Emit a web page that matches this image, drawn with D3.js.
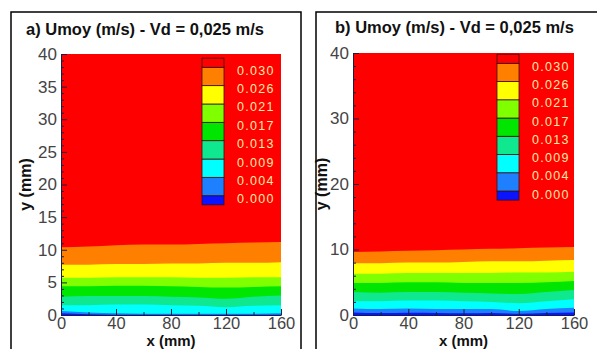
<!DOCTYPE html>
<html>
<head>
<meta charset="utf-8">
<script src="https://cdn.jsdelivr.net/npm/d3@7"></script>
<style>
  body { margin: 0; background: #fff; }
  svg { display: block; font-family: "Liberation Sans", Arial, sans-serif; }
</style>
</head>
<body>
<div id="chart"></div>
<script>
// x stations (mm) where band boundaries were read
const xs = [0, 20, 40, 60, 80, 100, 120, 140, 160];

// contour levels (m/s) and band colours, bottom to top
const levels = ['0.000', '0.004', '0.009', '0.013', '0.017', '0.021', '0.026', '0.030'];
const bandColors = ['#0a14ff', '#1e7fff', '#00ffff', '#10e890', '#00e600', '#80ff00', '#ffff00', '#ff8000', '#ff0000'];

// panel a) boundary heights y (mm) for each level
const a000 = [0.25, 0.1, 0.05, 0.05, 0.05, 0.05, 0.05, 0.05, 0.05];
const a004 = [0.6, 0.4, 0.25, 0.2, 0.2, 0.2, 0.2, 0.2, 0.25];
const a009 = [1.5, 1.5, 1.6, 1.6, 1.5, 1.4, 1.2, 1.4, 1.5];
const a013 = [2.8, 2.9, 2.9, 2.9, 2.8, 2.7, 2.5, 2.8, 3.0];
const a017 = [4.4, 4.4, 4.5, 4.5, 4.4, 4.3, 4.2, 4.3, 4.4];
const a021 = [5.7, 5.7, 5.8, 5.8, 5.8, 5.7, 5.7, 5.8, 5.8];
const a026 = [7.7, 7.7, 7.8, 7.8, 7.9, 7.9, 8.0, 8.0, 8.1];
const a030 = [10.4, 10.5, 10.7, 10.8, 10.8, 10.9, 11.0, 11.1, 11.2];

// panel b) boundary heights y (mm) for each level
const b000 = [0.4, 0.3, 0.35, 0.3, 0.25, 0.3, 0.2, 0.3, 0.4];
const b004 = [1.0, 0.9, 1.0, 0.9, 0.9, 0.9, 0.6, 0.9, 1.1];
const b009 = [2.1, 2.1, 2.2, 2.2, 2.1, 2.0, 1.8, 2.1, 2.4];
const b013 = [3.5, 3.4, 3.5, 3.5, 3.4, 3.3, 3.2, 3.5, 3.8];
const b017 = [4.9, 4.9, 5.0, 5.0, 4.9, 4.9, 4.9, 5.0, 5.2];
const b021 = [6.3, 6.3, 6.4, 6.4, 6.4, 6.4, 6.5, 6.5, 6.6];
const b026 = [7.9, 7.9, 8.0, 8.0, 8.1, 8.2, 8.2, 8.3, 8.4];
const b030 = [9.6, 9.7, 9.8, 9.9, 10.0, 10.1, 10.2, 10.3, 10.4];

const xTicks = [0, 40, 80, 120, 160];
const xMinor = [20, 60, 100, 140];
const yTicksA = [0, 5, 10, 15, 20, 25, 30, 35, 40];
const yTicksB = [0, 10, 20, 30, 40];

const W = 597, H = 349;
const svg = d3.select('#chart').append('svg')
    .attr('width', W)
    .attr('height', H);

const panels = [
    {
        id: 'a', title: 'a) Umoy (m/s) - Vd = 0,025 m/s',
        frameX: 11, frameW: 290, titleX: 26, titleY: 35,
        left: 61, right: 281, top: 54, bottom: 315,
        yTicks: yTicksA, yMinorStep: 1,
        bounds: [a000, a004, a009, a013, a017, a021, a026, a030],
        legX: 202, legTop: 67.3, legBottom: 195.7, labelX: 237,
        yLabelX: 31
    },
    {
        id: 'b', title: 'b) Umoy (m/s) - Vd = 0,025 m/s',
        frameX: 316, frameW: 300, titleX: 335, titleY: 33,
        left: 353, right: 574, top: 53, bottom: 315,
        yTicks: yTicksB, yMinorStep: 2,
        bounds: [b000, b004, b009, b013, b017, b021, b026, b030],
        legX: 497, legTop: 63.3, legBottom: 191, labelX: 532,
        yLabelX: 327
    }
];

panels.forEach(p => drawPanel(p));

function drawPanel(p) {
    const x = d3.scaleLinear().domain([0, 160]).range([p.left, p.right]);
    const y = d3.scaleLinear().domain([0, 40]).range([p.bottom, p.top]);

    // frame
    svg.append('rect')
        .attr('x', p.frameX).attr('y', 12)
        .attr('width', p.frameW).attr('height', H)
        .attr('fill', 'none').attr('stroke', '#000').attr('stroke-width', 1.5);

    svg.append('text')
        .attr('x', p.titleX).attr('y', p.titleY)
        .attr('font-size', 16.5).attr('font-weight', 'bold').attr('fill', '#111')
        .text(p.title);

    const clipId = 'clip-' + p.id;
    svg.append('clipPath').attr('id', clipId)
        .append('rect')
        .attr('x', p.left).attr('y', p.top)
        .attr('width', p.right - p.left).attr('height', p.bottom - p.top);

    const g = svg.append('g').attr('clip-path', `url(#${clipId})`);

    // top band fills whole plot
    g.append('rect')
        .attr('x', p.left).attr('y', p.top)
        .attr('width', p.right - p.left).attr('height', p.bottom - p.top)
        .attr('fill', bandColors[8]);

    // fill from y=0 up to each boundary, highest level first
    const area = d3.area()
        .x((d, i) => x(xs[i]))
        .y0(y(0) + 2)
        .y1(d => y(d))
        .curve(d3.curveMonotoneX);

    for (let k = p.bounds.length - 1; k >= 0; k--) {
        g.append('path')
            .attr('d', area(p.bounds[k]))
            .attr('fill', bandColors[k]);
    }

    // axes
    const tickColor = '#1c1c40';
    const labelColor = '#444';

    const yMinorVals = d3.range(0, 40.001, p.yMinorStep).filter(v => !p.yTicks.includes(v));
    svg.append('g')
        .attr('transform', `translate(${p.left},0)`)
        .call(d3.axisLeft(y).tickValues(yMinorVals).tickSizeInner(-3).tickSizeOuter(0).tickFormat(''))
        .call(s => s.select('.domain').remove())
        .call(s => s.selectAll('line').attr('stroke', tickColor));

    svg.append('g')
        .attr('transform', `translate(${p.left},0)`)
        .call(d3.axisLeft(y).tickValues(p.yTicks).tickSizeInner(-6).tickSizeOuter(0).tickPadding(4))
        .call(s => s.select('.domain').attr('stroke', tickColor))
        .call(s => s.selectAll('line').attr('stroke', tickColor))
        .call(s => s.selectAll('text')
            .attr('font-size', 17).attr('fill', labelColor)
            .attr('font-family', '"Liberation Sans", Arial, sans-serif'));

    svg.append('g')
        .attr('transform', `translate(0,${p.bottom})`)
        .call(d3.axisBottom(x).tickValues(xMinor).tickSizeInner(-3).tickSizeOuter(0).tickFormat(''))
        .call(s => s.select('.domain').remove())
        .call(s => s.selectAll('line').attr('stroke', tickColor));

    svg.append('g')
        .attr('transform', `translate(0,${p.bottom})`)
        .call(d3.axisBottom(x).tickValues(xTicks).tickSizeInner(-6).tickSizeOuter(0).tickPadding(2))
        .call(s => s.select('.domain').attr('stroke', tickColor))
        .call(s => s.selectAll('line').attr('stroke', tickColor))
        .call(s => s.selectAll('text')
            .attr('font-size', 16.5).attr('fill', labelColor)
            .attr('font-family', '"Liberation Sans", Arial, sans-serif'));

    // axis titles
    svg.append('text')
        .attr('x', (p.left + p.right) / 2).attr('y', 345.5)
        .attr('text-anchor', 'middle')
        .attr('font-size', 15).attr('font-weight', 'bold').attr('fill', '#111')
        .text('x (mm)');

    svg.append('text')
        .attr('transform', `translate(${p.yLabelX},${(p.top + p.bottom) / 2}) rotate(-90)`)
        .attr('text-anchor', 'middle')
        .attr('font-size', 16).attr('font-weight', 'bold').attr('fill', '#111')
        .text('y (mm)');

    // legend
    const ly = d3.scaleLinear().domain([0, levels.length - 1]).range([p.legBottom, p.legTop]);
    const step = ly(0) - ly(1);
    const half = step / 2;
    const legW = 22;
    const boxes = bandColors.map((c, i) => {
        const lo = i === 0 ? ly(0) + half : ly(i - 1);
        const hi = i === bandColors.length - 1 ? ly(levels.length - 1) - half : ly(i);
        return { c, y0: hi, y1: lo };
    });
    const leg = svg.append('g');
    leg.selectAll('rect')
        .data(boxes)
        .join('rect')
        .attr('x', p.legX).attr('y', d => d.y0)
        .attr('width', legW).attr('height', d => d.y1 - d.y0)
        .attr('fill', d => d.c)
        .attr('stroke', '#3a1010').attr('stroke-width', 0.8);

    leg.selectAll('text')
        .data(levels)
        .join('text')
        .attr('x', p.labelX).attr('y', (d, i) => ly(i) + 3.5)
        .attr('dominant-baseline', 'central')
        .attr('font-size', 12.5).attr('letter-spacing', 1.3)
        .attr('fill', '#fbe9a6')
        .text(d => d);
}
</script>
</body>
</html>
